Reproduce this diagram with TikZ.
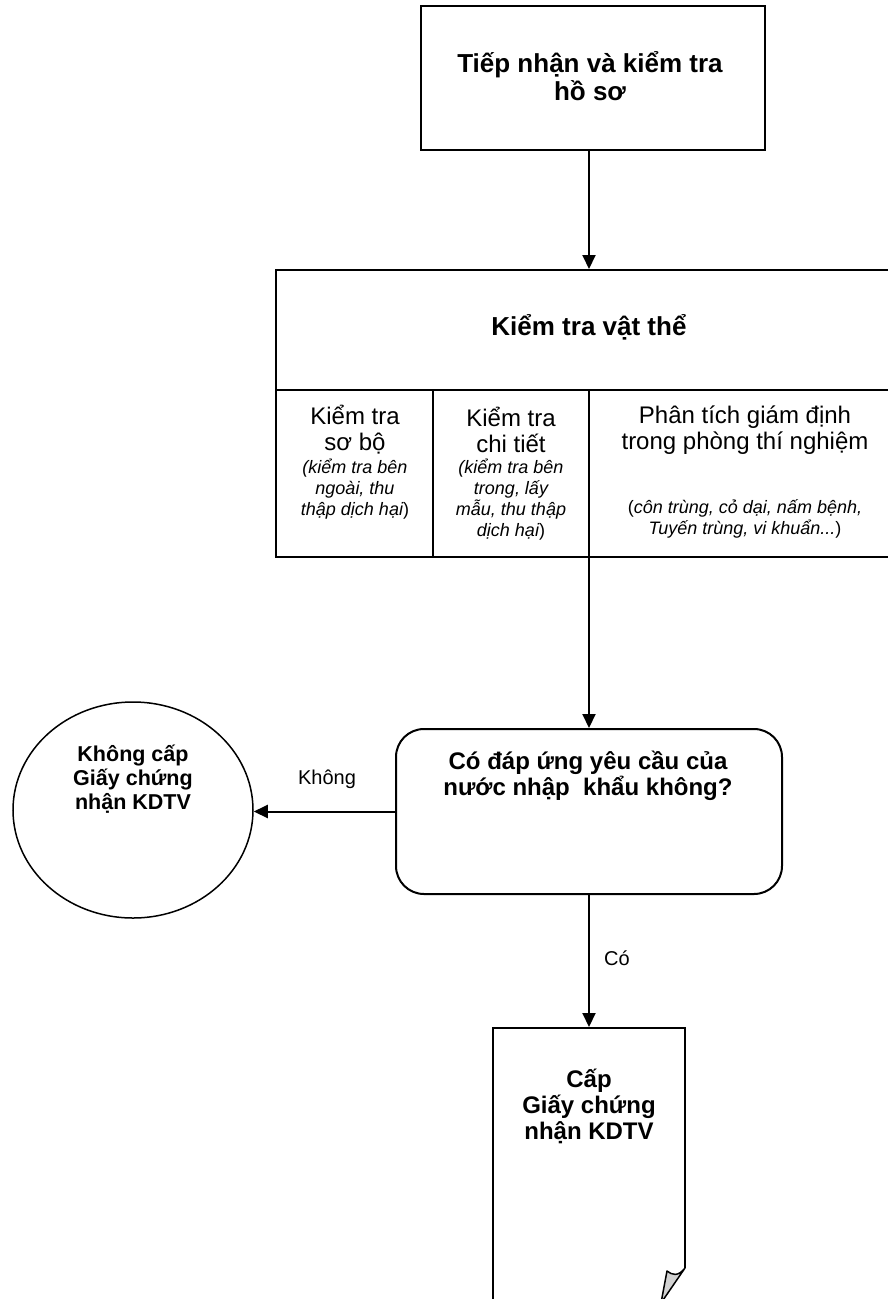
\documentclass[tikz,border=0pt]{standalone}
\usepackage{fontspec}
\setmainfont{Liberation Sans}
\usetikzlibrary{arrows.meta,shapes.geometric}
\begin{document}
\begin{tikzpicture}[x=1pt,y=-1pt,
  line width=2pt,
  arr/.style={-{Triangle[length=14pt,width=13pt]}},
  boxshape/.style={draw, rectangle, inner sep=0pt},
  txt/.style={align=center, inner sep=0pt},
  bigb/.style={txt, font=\bfseries\fontsize{26}{28}\selectfont},
  midb/.style={txt, font=\bfseries\fontsize{24}{26}\selectfont},
  smlb/.style={txt, font=\bfseries\fontsize{21.5}{24}\selectfont},
  reg/.style={txt, font=\fontsize{24}{26}\selectfont},
  ital/.style={txt, font=\itshape\fontsize{18}{21}\selectfont},
  lbl/.style={txt, font=\fontsize{20}{22}\selectfont}
]
\useasboundingbox (0,0) rectangle (888,1299);
\clip (0,0) rectangle (888,1299);

% top box
\node[boxshape, minimum width=344pt, minimum height=144pt] (top) at (593,78) {};
\node[bigb] (toptxt) at (590,76) {Tiếp nhận và kiểm tra\\hồ sơ};

% big box
\node[boxshape, minimum width=626pt, minimum height=287pt] (big) at (589,413.5) {};
\draw (276,390) -- (902,390);
\draw (433,390) -- (433,557);
\draw (589,390) -- (589,557);
\node[bigb] (title) at (589,327) {Kiểm tra vật thể};
\node[reg] (c1a) at (355,430) {Kiểm tra\\sơ bộ};
\node[ital] (c1b) at (355,489) {(kiểm tra bên\\ngoài, thu\\thập dịch hại\upshape)};
\node[reg] (c2a) at (511,430) {Kiểm tra\\chi tiết};
\node[ital] (c2b) at (511,500) {(kiểm tra bên\\trong, lấy\\mẫu, thu thập\\dịch hại\upshape)};
\node[reg] (c3a) at (745,430) {Phân tích giám định\\trong phòng thí nghiệm};
\node[ital] (c3b) at (745,519) {\upshape(\itshape côn trùng, cỏ dại, nấm bệnh,\\Tuyến trùng, vi khuẩn...\upshape)};

% decision box
\node[draw, rectangle, rounded corners=28pt, minimum width=386pt, minimum height=165pt, inner sep=0pt] (q) at (589,811.5) {};
\node[midb] (qtxt) at (588,776) {Có đáp ứng yêu cầu của\\nước nhập~ khẩu không?};

% ellipse
\node[draw, ellipse, minimum width=240pt, minimum height=216pt, inner sep=0pt, line width=1.5pt] (no) at (133,810) {};
\node[smlb] (notxt) at (133,779) {Không cấp\\Giấy chứng\\nhận KDTV};

% document
\node[inner sep=0pt, minimum width=192pt, minimum height=280pt] (doc) at (589,1168) {};
\draw (493,1310) -- (493,1028) -- (685,1028) -- (685,1268);
\draw[fill=gray!35, line width=1.5pt, line join=round] (685,1268) .. controls (678,1277) and (672,1275) .. (667,1271) -- (661,1303) -- cycle;
\node[midb] (doctxt) at (589,1106) {Cấp\\Giấy chứng\\nhận KDTV};

% connectors
\coordinate (ax) at (589,0);
\draw[arr] (top.south -| ax) -- (big.north -| ax);
\draw[arr] (big.south -| ax) -- (q.north -| ax);
\draw[arr] (q.west) -- (q.west -| no.east);
\draw[arr] (q.south -| ax) -- (doc.north);

\node[lbl] (lk) at (327,779) {Không};
\node[lbl] (lc) at (617,958) {Có};
\end{tikzpicture}
\end{document}
